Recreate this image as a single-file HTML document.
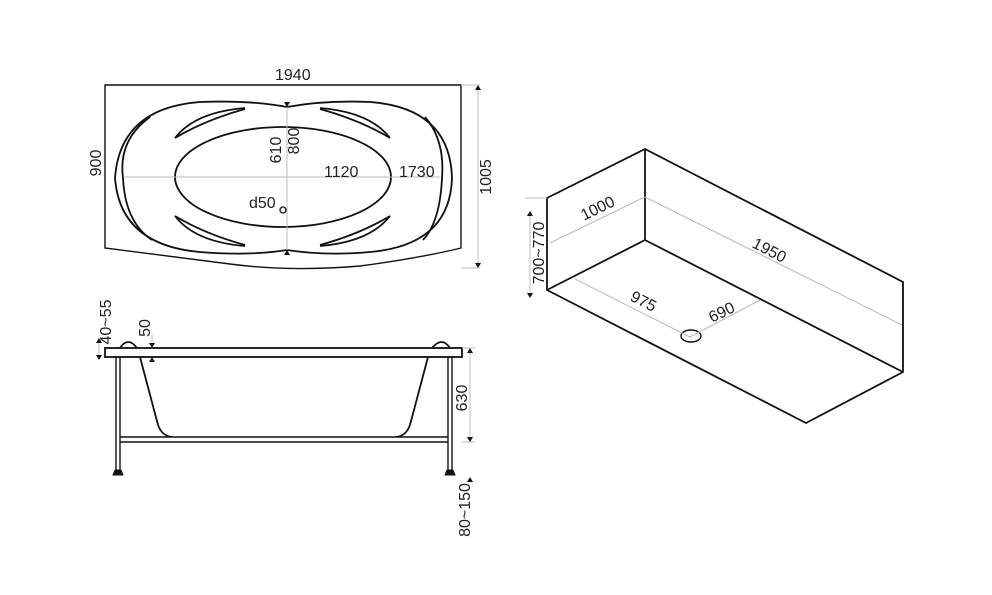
<!DOCTYPE html>
<html><head><meta charset="utf-8"><style>
html,body{margin:0;padding:0;background:#fff;}
svg{display:block;}
text{font-family:"Liberation Sans",sans-serif;font-size:16px;fill:#222;}
</style></head><body>
<svg width="992" height="595" viewBox="0 0 992 595" xmlns="http://www.w3.org/2000/svg">
<g fill="none" stroke="#111" stroke-width="1.8">
<!-- top view -->
<path d="M105,85 L461,85 L461,248 Q420,258 360,266 Q290,272 230,264 Q160,255 105,248 Z" stroke-width="1.4"/>
<path d="M287,107 Q250,100 200,102 Q120,108 115,178 Q120,245 200,252 Q250,256 287,250 Q325,256 370,252 Q450,245 452,178 Q450,108 370,102 Q325,100 287,107 Z"/>
<path d="M150,117 Q118,140 123,178 Q125,222 152,240"/>
<path d="M425,117 Q445,140 442,178 Q440,222 423,240"/>
<ellipse cx="283" cy="177" rx="108" ry="50"/>
<path d="M175,138 Q195,112 245,108"/><path d="M175,138 Q205,120 245,109"/>
<path d="M390,138 Q370,112 320,108"/><path d="M390,138 Q360,120 320,109"/>
<path d="M175,216 Q195,242 245,246"/><path d="M175,216 Q205,234 245,245"/>
<path d="M390,216 Q370,242 320,246"/><path d="M390,216 Q360,234 320,245"/>
<circle cx="283" cy="210" r="3" stroke-width="1.3"/>
<!-- side view -->
<path d="M120,348 Q128,336 137,348"/><path d="M432,348 Q442,336 450,348"/>
<rect x="105" y="348" width="357" height="9"/>
<path d="M140,357 L158,425 Q162,436 172,437"/>
<path d="M428,357 L410,425 Q406,436 396,437"/>
<path d="M116,357 V470 M120,357 V470 M448,357 V470 M452,357 V470" stroke-width="1.4"/>
<path d="M120,437 H448 M120,442 H448" stroke-width="1.4"/>
<path d="M113,475 L115,470 H121 L123,475 Z M445,475 L447,470 H453 L455,475 Z" fill="#111" stroke-width="1"/>
<!-- iso -->
<path d="M547,198 L645,149 L903,282 V372 L806,423 L547,290 Z"/>
<path d="M645,149 V240 L903,372 M547,290 L645,240"/>
<ellipse cx="691" cy="336" rx="10" ry="6" stroke-width="1.4"/>
</g>
<g fill="none" stroke="#bbb" stroke-width="1">
<path d="M125,177 H440 M287,107 V250 M461,85 H480 M461,268 H480 M478,85 V268"/>
<path d="M462,348 H475 M462,442 H475 M470,348 V442 M99,340 V358 M152,335 V348"/>
<path d="M550,243 L645,197 M645,197 L902,325 M575,279 L690,337 L760,300 M530,211 V295 M525,198 H547"/>
</g>
<g fill="#111">
<path d="M287,107 l-3,-5 h6z M287,250 l-3,5 h6z M478,85 l-3,5 h6z M478,268 l-3,-5 h6z"/>
<path d="M470,348 l-3,5 h6z M470,442 l-3,-5 h6z M152,348 l-3,-5 h6z M152,357 l-3,5 h6z M99,338 l-3,5 h6z M99,360 l-3,-5 h6z M470,477 l-3,5 h6z"/>
<path d="M530,211 l-3,5 h6z M530,298 l-3,-5 h6z"/>
</g>
<text x="275" y="80">1940</text>
<text transform="translate(101,163) rotate(-90)" text-anchor="middle">900</text>
<text transform="translate(491,177) rotate(-90)" text-anchor="middle">1005</text>
<text transform="translate(281,150) rotate(-90)" text-anchor="middle">610</text>
<text transform="translate(299,141) rotate(-90)" text-anchor="middle">800</text>
<text x="324" y="177">1120</text>
<text x="399" y="177">1730</text>
<text x="249" y="208">d50</text>
<text transform="translate(111,322) rotate(-90)" text-anchor="middle">40~55</text>
<text transform="translate(150,328) rotate(-90)" text-anchor="middle">50</text>
<text transform="translate(467,398) rotate(-90)" text-anchor="middle">630</text>
<text transform="translate(470,510) rotate(-90)" text-anchor="middle">80~150</text>
<text transform="translate(600,213) rotate(-26)" text-anchor="middle">1000</text>
<text transform="translate(767,255) rotate(27)" text-anchor="middle">1950</text>
<text transform="translate(641,306) rotate(27)" text-anchor="middle">975</text>
<text transform="translate(724,317) rotate(-26)" text-anchor="middle">690</text>
<text transform="translate(544,253) rotate(-90)" text-anchor="middle">700~770</text>
</svg>
</body></html>
